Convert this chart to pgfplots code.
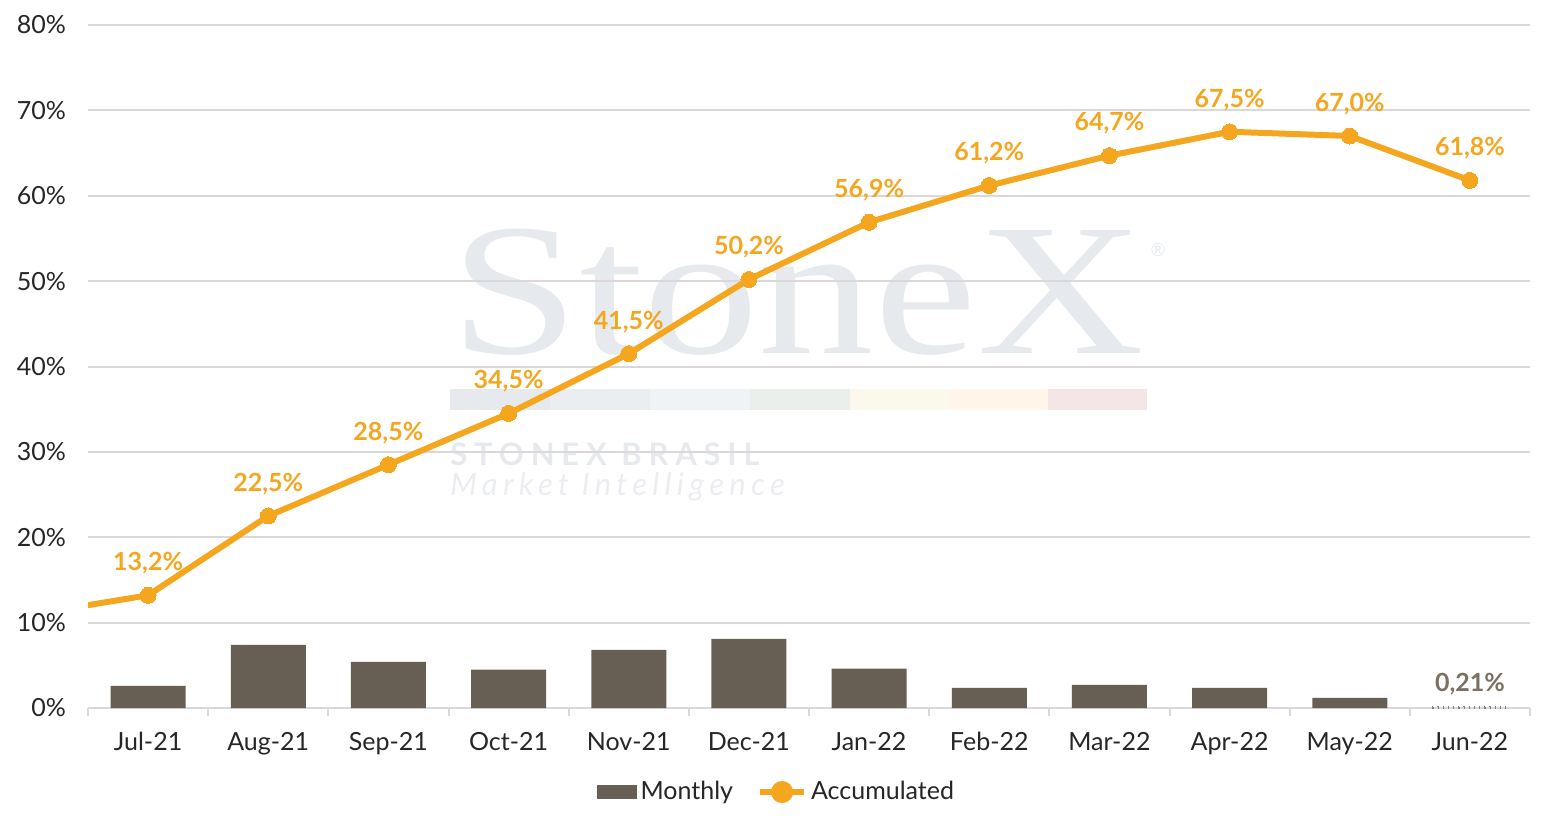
\documentclass[border=0pt]{standalone}
\usepackage{pgfplots}
\pgfplotsset{compat=1.18}
\usepackage{fontspec}
\setmainfont{Lato}
\newfontfamily\wmserif{Liberation Serif}
\definecolor{barc}{HTML}{675F54}
\definecolor{acc}{HTML}{F5A61F}
\definecolor{gridc}{HTML}{DCD8D9}
\definecolor{txt}{HTML}{262626}
\definecolor{wm}{HTML}{E6E9ED}
\definecolor{lab}{HTML}{7A7064}
\definecolor{s1}{HTML}{E6E9EE}
\definecolor{s2}{HTML}{EAEEF2}
\definecolor{s3}{HTML}{EEF3F8}
\definecolor{s4}{HTML}{E9F0EC}
\definecolor{s5}{HTML}{FCF9EC}
\definecolor{s6}{HTML}{FEF6E8}
\definecolor{s7}{HTML}{F5E6E6}
\pgfkeys{/pgf/number format/assume math mode=true}
\begin{document}
\begin{tikzpicture}
\useasboundingbox (-44pt,-59.5pt) rectangle (733pt,354pt);
% watermark
\node[anchor=base west, inner sep=0, text=wm, font=\fontsize{94}{94}\selectfont\wmserif, xscale=1.23] at (181pt,177.5pt) {StoneX};
\node[anchor=center, inner sep=0, text=wm, font=\fontsize{9}{9}\selectfont] at (535pt,229pt) {®};
\fill[s1] (181pt,149pt) rectangle (231pt,159.5pt);
\fill[s2] (231pt,149pt) rectangle (281pt,159.5pt);
\fill[s3] (281pt,149pt) rectangle (331pt,159.5pt);
\fill[s4] (331pt,149pt) rectangle (381pt,159.5pt);
\fill[s5] (381pt,149pt) rectangle (431pt,159.5pt);
\fill[s6] (431pt,149pt) rectangle (480pt,159.5pt);
\fill[s7] (480pt,149pt) rectangle (529.5pt,159.5pt);
\node[anchor=base west, inner sep=0, text=wm, font=\fontsize{15.5}{15.5}\selectfont\bfseries\addfontfeature{LetterSpace=22}] at (181pt,121.5pt) {STONEX BRASIL};
\node[anchor=base west, inner sep=0, text=wm!80, font=\fontsize{15.5}{15.5}\selectfont\itshape\addfontfeature{LetterSpace=17}] at (181pt,106.5pt) {Market Intelligence};
\begin{axis}[
  at={(0,0)}, anchor=south west, scale only axis,
  width=721pt, height=341.5pt,
  xmin=-0.5, xmax=11.5, ymin=0, ymax=80,
  xtick={0,...,11},
  xticklabels={Jul-21,Aug-21,Sep-21,Oct-21,Nov-21,Dec-21,Jan-22,Feb-22,Mar-22,Apr-22,May-22,Jun-22},
  minor xtick={-0.5,0.5,...,11.5},
  ytick={0,10,...,80},
  yticklabel={\pgfmathprintnumber{\tick}\%},
  ymajorgrids, grid style={gridc, line width=1pt},
  axis x line*=bottom, axis y line*=left,
  y axis line style={draw=none},
  x axis line style={gridc, line width=1pt, -},
  major tick length=0pt, minor tick length=4pt, tick align=outside,
  minor x tick style={gridc, line width=1pt},
  ticklabel style={font=\fontsize{12.5}{15}\selectfont, text=txt},
  xticklabel style={yshift=-8.5pt},
  yticklabel style={xshift=-7.5pt},
  legend style={at={(0.478,-0.123)}, anchor=center, draw=none, fill=none,
    legend columns=2, font=\fontsize{12.5}{15}\selectfont, text=txt,
    /tikz/every even column/.append style={column sep=10pt}},
  clip=true,
]
\addplot[ybar, bar width=37.5pt, bar shift=0pt, fill=barc, draw=none,
  legend image code/.code={\fill[barc] (0pt,-3.5pt) rectangle (20pt,3.5pt);}]
  coordinates {(0,2.6) (1,7.4) (2,5.4) (3,4.5) (4,6.8) (5,8.1) (6,4.6) (7,2.35) (8,2.7) (9,2.35) (10,1.2)};
\addlegendentry{Monthly}
\addplot[ybar, bar width=37.5pt, bar shift=0pt, fill=none, draw=gray, dotted, line width=0.6pt,
  forget plot, nodes near coords={\pgfmathprintnumber[use comma,fixed,fixed zerofill,precision=2]{\pgfplotspointmeta}\%},
  every node near coord/.append style={anchor=center, yshift=11pt, text=lab, font=\fontsize{12.5}{15}\selectfont\bfseries}]
  coordinates {(11,0.21)};
\addplot[acc, line width=3pt, forget plot] coordinates {(-1,10.9) (0,13.2)};
\addplot[acc, line width=3pt, mark=*, mark size=4pt, mark options={solid, fill=acc, draw=acc, line width=0pt},
  nodes near coords={\pgfmathprintnumber[use comma,fixed,fixed zerofill,precision=1]{\pgfplotspointmeta}\%},
  every node near coord/.append style={anchor=center, yshift=16pt, text=acc, font=\fontsize{12.5}{15}\selectfont\bfseries},
  legend image code/.code={\draw[acc, line width=3pt] (0pt,0pt) -- (22pt,0pt); \fill[acc] (11pt,0pt) circle (4pt);}]
  coordinates {(0,13.2) (1,22.5) (2,28.5) (3,34.5) (4,41.5) (5,50.2) (6,56.9) (7,61.2) (8,64.7) (9,67.5) (10,67.0) (11,61.8)};
\addlegendentry{Accumulated}
\end{axis}
\end{tikzpicture}
\end{document}
